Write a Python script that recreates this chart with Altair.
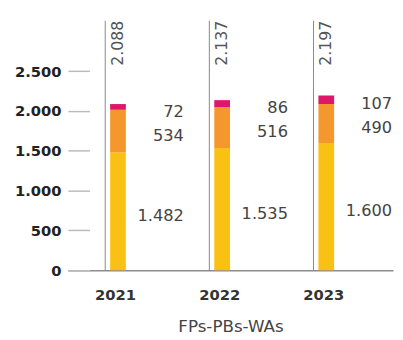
import altair as alt
import pandas as pd

years = ["2021", "2022", "2023"]
fps = [1482, 1535, 1600]
pbs = [534, 516, 490]
was = [72, 86, 107]
totals = [2088, 2137, 2197]
series = ["FPs", "PBs", "WAs"]
colors = ["#FAC115", "#F4982E", "#E0166B"]
y_ticks = [0, 500, 1000, 1500, 2000, 2500]

rows = []
for i, yr in enumerate(years):
    for k, vals in enumerate([fps, pbs, was]):
        rows.append({"year": yr, "series": series[k], "order": k, "value": vals[i]})
df = pd.DataFrame(rows)
tot_df = pd.DataFrame({"year": years, "total": totals})

FONT = "DejaVu Sans"
W, H = 331, 254
fmt = "replace(format(datum.{f}, ','), ',', '.')"

xenc = alt.X(
    "year:N",
    scale=alt.Scale(paddingInner=0, paddingOuter=0.061),
    axis=alt.Axis(
        title="FPs-PBs-WAs", labelAngle=0, ticks=False, domainColor="#8c8c8c",
        domainWidth=1.5, labelFont=FONT, labelFontWeight="bold", labelFontSize=15,
        labelColor="#333333", labelPadding=18, labelOffset=-11,
        titleFont=FONT, titleFontWeight="normal", titleFontSize=17,
        titleColor="#444444", titlePadding=16,
    ),
)
yscale = alt.Scale(domain=[0, 3135], nice=False, zero=True)

bars = alt.Chart(df).mark_bar(size=16, xOffset=-8.5).encode(
    x=xenc,
    y=alt.Y(
        "value:Q", stack="zero", scale=yscale,
        axis=alt.Axis(
            title=None, values=y_ticks, domain=False, grid=False, tickSize=22,
            tickColor="#bbbbbb", tickWidth=1.5, offset=-22, labelPadding=7,
            labelFont=FONT, labelFontWeight="bold", labelFontSize=15,
            labelColor="#222222", labelExpr=fmt.format(f="value"),
        ),
    ),
    color=alt.Color("series:N", scale=alt.Scale(domain=series, range=colors), legend=None),
    order=alt.Order("order:Q"),
)

rules = alt.Chart(tot_df).mark_rule(color="#888888", strokeWidth=1, xOffset=-21.5).encode(
    x="year:N", y=alt.datum(0), y2=alt.value(0)
)

labels = alt.Chart(df).transform_stack(
    stack="value", groupby=["year"], as_=["v0", "v1"], sort=[alt.SortField("order")]
).transform_calculate(
    mid="(datum.v0 + datum.v1) / 2", label=fmt.format(f="value")
).mark_text(
    align="right", baseline="middle", xOffset=58.5, dy=5, font=FONT, fontSize=16.5,
    color="#444444",
).encode(x="year:N", y=alt.Y("mid:Q", scale=yscale), text="label:N")

tot_text = alt.Chart(tot_df).transform_calculate(
    label=fmt.format(f="total")
).mark_text(
    angle=270, align="right", baseline="middle", xOffset=-8.5, font=FONT,
    fontSize=16, color="#555555",
).encode(x="year:N", y=alt.value(0), text="label:N")

chart = alt.layer(bars, rules, labels, tot_text).properties(
    width=W, height=H,
    padding={"left": 61, "top": 10, "right": 2, "bottom": 64},
    autosize=alt.AutoSizeParams(type="none"),
).configure_view(stroke=None)

chart.save("out.html", embed_options={"renderer": "svg", "actions": False})
